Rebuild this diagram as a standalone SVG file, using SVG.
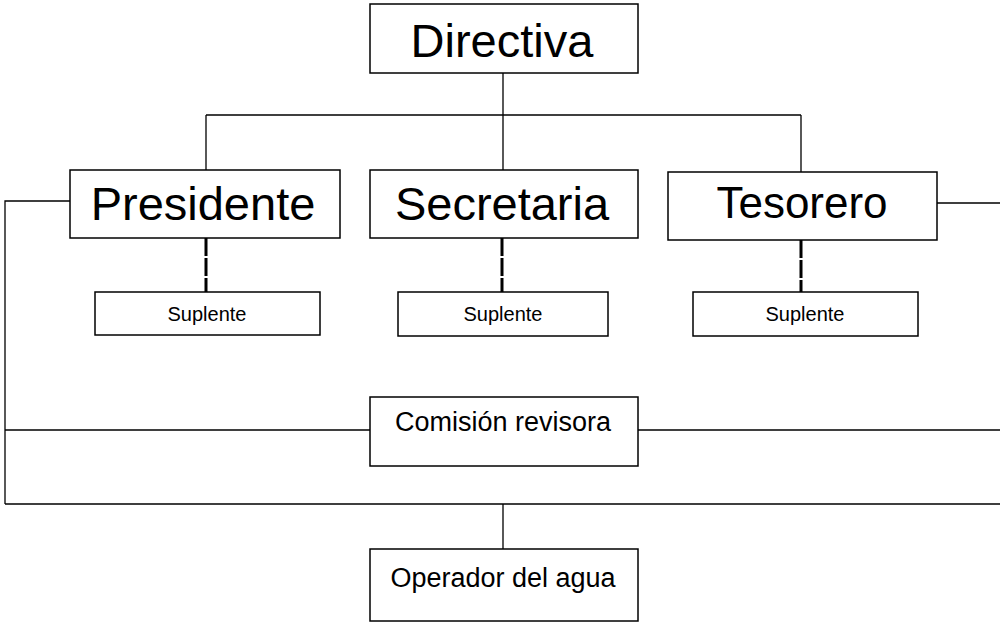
<svg xmlns="http://www.w3.org/2000/svg" width="1000" height="623" viewBox="0 0 1000 623">
<style>
.box{fill:#fff;stroke:#000;stroke-width:1.5}
.ln{fill:none;stroke:#000;stroke-width:1.3}
.dl{fill:none;stroke:#000;stroke-width:3;stroke-dasharray:18 2}
text{font-family:"Liberation Sans",Arial,sans-serif;fill:#000;text-anchor:middle}
.big{font-size:47px}
.big2{font-size:44px}
.mid{font-size:27px}
.sm{font-size:20px}
</style>
<rect width="1000" height="623" fill="#fff"/>
<g id="connectors">
<path class="ln" d="M503,73 V115 M206,115 H801 M206,115 V170 M503,115 V170 M801,115 V172"/>
<path class="ln" d="M70,201 H5 V504 M937,203 H1000"/>
<path class="ln" d="M5,430 H370 M638,430 H1000"/>
<path class="ln" d="M5,504 H1000 M503,504 V549"/>
<path class="dl" d="M206,238 V292 M502,238 V292 M801,240 V292"/>
</g>
<g id="directiva"><rect class="box" x="370" y="4" width="268" height="69"/><text class="big" x="502" y="57">Directiva</text></g>
<g id="presidente"><rect class="box" x="70" y="170" width="270" height="68"/><text class="big" x="203" y="220">Presidente</text></g>
<g id="secretaria"><rect class="box" x="370" y="170" width="268" height="68"/><text class="big" x="502" y="220">Secretaria</text></g>
<g id="tesorero"><rect class="box" x="668" y="172" width="269" height="68"/><text class="big2" x="802" y="218">Tesorero</text></g>
<g id="suplente1"><rect class="box" x="95" y="292" width="225" height="43"/><text class="sm" x="207" y="321">Suplente</text></g>
<g id="suplente2"><rect class="box" x="398" y="292" width="210" height="44"/><text class="sm" x="503" y="321">Suplente</text></g>
<g id="suplente3"><rect class="box" x="693" y="292" width="225" height="44"/><text class="sm" x="805" y="321">Suplente</text></g>
<g id="comision"><rect class="box" x="370" y="397" width="268" height="69"/><text class="mid" x="503" y="431">Comisión revisora</text></g>
<g id="operador"><rect class="box" x="370" y="549" width="268" height="72"/><text class="mid" x="503" y="587">Operador del agua</text></g>
</svg>
